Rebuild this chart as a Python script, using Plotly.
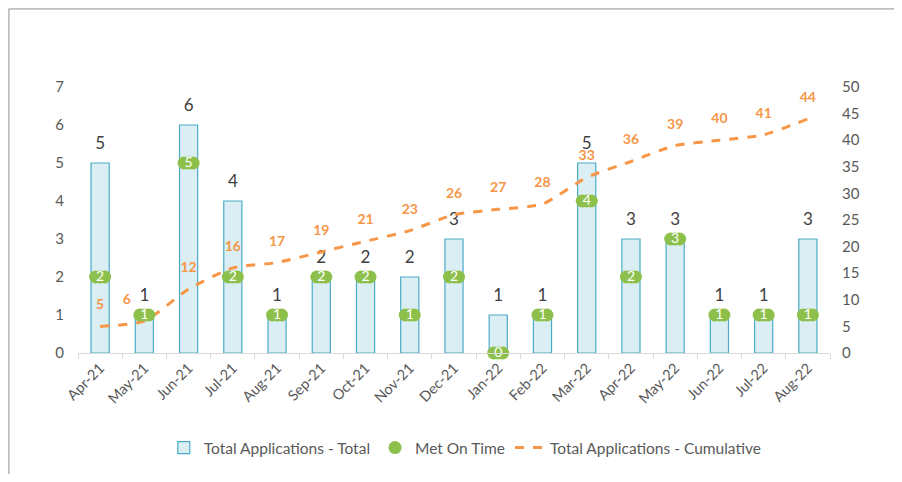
import plotly.graph_objects as go

months = ["Apr-21", "May-21", "Jun-21", "Jul-21", "Aug-21", "Sep-21", "Oct-21", "Nov-21",
          "Dec-21", "Jan-22", "Feb-22", "Mar-22", "Apr-22", "May-22", "Jun-22", "Jul-22", "Aug-22"]
total = [5, 1, 6, 4, 1, 2, 2, 2, 3, 1, 1, 5, 3, 3, 1, 1, 3]
met_on_time = [2, 1, 5, 2, 1, 2, 2, 1, 2, 0, 1, 4, 2, 3, 1, 1, 1]
cumulative = [5, 6, 12, 16, 17, 19, 21, 23, 26, 27, 28, 33, 36, 39, 40, 41, 44]

FONT = "Lato"
GREEN = "#8DC04B"
# page body has an 8px margin, so the figure is sized to fit inside the window
W, H = 886, 466
L, R, T, B = 70, 64, 79, 121
pw, ph = W - L - R, H - T - B
n = len(months)
# pill shape for "Met On Time": circles shifted a few pixels via overlaid, hidden x axes
shift = 4.5 / (pw / n)

fig = go.Figure()
fig.add_trace(go.Bar(
    x=months, y=total, name="Total Applications - Total", legendrank=1,
    marker=dict(color="#DAEEF3", line=dict(color="#4BACC6", width=1.2)),
    width=0.41,
))
# bar value labels, lifted a little above the bar tops
fig.add_trace(go.Scatter(
    x=months, y=total, mode="markers+text", showlegend=False, hoverinfo="skip",
    marker=dict(size=14, color="rgba(0,0,0,0)"),
    text=[str(v) for v in total], textposition="top center", cliponaxis=False,
    textfont=dict(size=17, color="#404040", family=FONT),
))
label_pos = ["top center"] * n
label_pos[1] = "top left"
fig.add_trace(go.Scatter(
    x=months, y=cumulative, name="Total Applications - Cumulative", yaxis="y2", legendrank=3,
    mode="lines+markers+text",
    line=dict(color="#F79646", width=3, dash="dash", shape="spline", smoothing=0.6),
    marker=dict(size=20, color="rgba(0,0,0,0)"),
    text=["<b>%d</b>" % v for v in cumulative], textposition=label_pos,
    textfont=dict(size=14, color="#F79646", family=FONT), cliponaxis=False,
))
for ax in ("x2", "x3"):
    fig.add_trace(go.Scatter(
        x=months, y=met_on_time, xaxis=ax, yaxis="y", mode="markers",
        marker=dict(color=GREEN, size=13, symbol="circle"),
        showlegend=False, hoverinfo="skip", cliponaxis=False,
    ))
fig.add_trace(go.Scatter(
    x=months, y=met_on_time, name="Met On Time", xaxis="x4", yaxis="y", mode="markers+text",
    legendrank=2,
    marker=dict(color=GREEN, size=13, symbol="circle"),
    text=[str(v) for v in met_on_time], textposition="middle center",
    textfont=dict(size=14, color="white", family=FONT), cliponaxis=False,
))

border = "#BFBFBF"
xl = (0.75 - L) / pw
yt = (ph + T - 0.75) / ph
shapes = [
    dict(type="line", xref="paper", yref="paper",
         x0=xl, x1=xl, y0=-(B) / ph, y1=yt, line=dict(color=border, width=2)),
    dict(type="line", xref="paper", yref="paper",
         x0=xl, x1=(W - L) / pw, y0=yt, y1=yt, line=dict(color=border, width=2)),
]

base_range = [-0.5, n - 0.5]
hidden = dict(overlaying="x", anchor="y", visible=False, type="category")

fig.update_layout(
    width=W, height=H,
    margin=dict(l=L, r=R, t=T, b=B, autoexpand=False),
    paper_bgcolor="white", plot_bgcolor="white",
    font=dict(family=FONT, color="#595959", size=14),
    showlegend=True,
    legend=dict(orientation="h", x=0.515, xanchor="center", y=-0.357, yanchor="middle",
                font=dict(size=15.5, color="#595959"), traceorder="normal"),
    xaxis=dict(range=base_range, tickangle=-45, showline=True,
               linecolor="#D9D9D9", linewidth=1, automargin=False,
               ticks="outside", tickcolor="#D9D9D9", ticklen=5, tickson="boundaries",
               showgrid=False, tickfont=dict(size=14.5, color="#595959")),
    xaxis2=dict(hidden, range=[base_range[0] + shift, base_range[1] + shift]),
    xaxis3=dict(hidden, range=[base_range[0] - shift, base_range[1] - shift]),
    xaxis4=dict(hidden, range=base_range),
    yaxis=dict(range=[0, 7], dtick=1, showgrid=False, zeroline=False, showline=False,
               automargin=False, tickfont=dict(size=15, color="#595959"),
               ticklen=10, ticks="outside", tickcolor="rgba(0,0,0,0)"),
    yaxis2=dict(range=[0, 50], dtick=5, overlaying="y", side="right", showgrid=False,
                automargin=False, zeroline=False, showline=False,
                tickfont=dict(size=15, color="#595959"),
                ticks="outside", ticklen=8, tickcolor="rgba(0,0,0,0)"),
    shapes=shapes,
)

fig.write_html("out.html")
